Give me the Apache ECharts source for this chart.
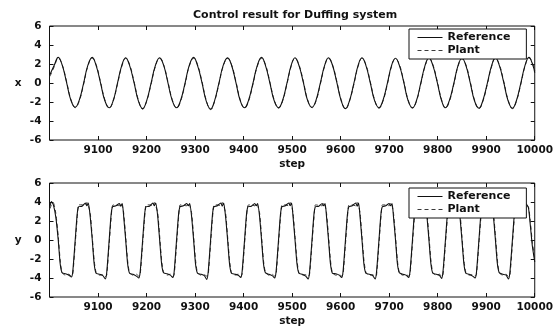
<!DOCTYPE html>
<html>
<head>
<meta charset="utf-8">
<script src="https://cdn.jsdelivr.net/npm/echarts@6/dist/echarts.min.js"></script>
<style>
  html, body { margin: 0; padding: 0; background: #ffffff; }
  #chart { width: 556px; height: 328px; }
</style>
</head>
<body>
<div id="chart"></div>
<script>
// Tick labels
const stepTicks = [9100, 9200, 9300, 9400, 9500, 9600, 9700, 9800, 9900, 10000];
const valueTicks = [-6, -4, -2, 0, 2, 4, 6];

// Position x: sample steps and values
const xSteps = [
  9001, 9010,
  9018, 9026, 9035, 9044, 9053, 9061, 9070, 9079,
  9088, 9096, 9105, 9114, 9123, 9131, 9140, 9149,
  9157, 9165, 9174, 9183, 9192, 9200, 9209, 9218,
  9227, 9235, 9244, 9253, 9262, 9270, 9279, 9288,
  9297, 9305, 9314, 9323, 9332, 9340, 9349, 9358,
  9367, 9375, 9384, 9393, 9402, 9410, 9419, 9428,
  9437, 9445, 9454, 9463, 9472, 9480, 9489, 9498,
  9506, 9514, 9523, 9532, 9541, 9549, 9558, 9567,
  9575, 9583, 9592, 9601, 9610, 9618, 9627, 9636,
  9644, 9652, 9661, 9670, 9679, 9687, 9696, 9705,
  9713, 9721, 9730, 9739, 9748, 9756, 9765, 9774,
  9782, 9790, 9799, 9808, 9816, 9824, 9833, 9842,
  9850, 9858, 9867, 9876, 9885, 9893, 9902, 9911,
  9919, 9927, 9936, 9945, 9954, 9962, 9971, 9980,
  9988, 9996, 10000
];
const xReference = [
  0.9, 1.9,
  2.7, 1.9, 0.1, -1.8, -2.55, -1.85, -0.1, 1.85,
  2.7, 1.85, 0.05, -1.85, -2.6, -1.9, -0.05, 1.85,
  2.65, 1.85, 0.1, -1.85, -2.7, -1.9, -0.1, 1.8,
  2.65, 1.9, 0.05, -1.85, -2.6, -1.85, -0.1, 1.85,
  2.7, 1.85, 0.1, -1.9, -2.75, -1.9, -0.05, 1.85,
  2.65, 1.9, 0.1, -1.85, -2.6, -1.85, -0.1, 1.8,
  2.7, 1.85, 0.05, -1.85, -2.6, -1.9, -0.1, 1.85,
  2.65, 1.85, 0.1, -1.85, -2.55, -1.85, -0.05, 1.85,
  2.65, 1.9, 0.1, -1.85, -2.7, -1.9, -0.1, 1.85,
  2.65, 1.85, 0.05, -1.85, -2.6, -1.85, -0.1, 1.85,
  2.6, 1.85, 0.1, -1.85, -2.6, -1.9, -0.05, 1.85,
  2.65, 1.85, 0.1, -1.85, -2.6, -1.85, -0.1, 1.85,
  2.6, 1.85, 0.05, -1.9, -2.65, -1.85, -0.1, 1.8,
  2.65, 1.85, 0.1, -1.85, -2.65, -1.9, -0.1, 1.85,
  2.7, 1.9, 1.1
];
const xPlant = [
  0.7, 1.75,
  2.6, 1.95, 0.2, -1.7, -2.6, -1.95, -0.2, 1.75,
  2.6, 1.95, 0.15, -1.75, -2.65, -1.95, -0.15, 1.75,
  2.6, 1.95, 0.2, -1.75, -2.75, -1.95, -0.2, 1.7,
  2.6, 1.95, 0.15, -1.75, -2.65, -1.95, -0.2, 1.75,
  2.6, 1.95, 0.2, -1.8, -2.8, -1.95, -0.15, 1.75,
  2.6, 1.95, 0.2, -1.75, -2.65, -1.95, -0.2, 1.7,
  2.6, 1.95, 0.15, -1.75, -2.65, -1.95, -0.2, 1.75,
  2.6, 1.95, 0.2, -1.75, -2.6, -1.95, -0.15, 1.75,
  2.6, 1.95, 0.2, -1.75, -2.75, -1.95, -0.2, 1.75,
  2.6, 1.95, 0.15, -1.75, -2.65, -1.95, -0.2, 1.75,
  2.55, 1.95, 0.2, -1.75, -2.65, -1.95, -0.15, 1.75,
  2.6, 1.95, 0.2, -1.75, -2.65, -1.95, -0.2, 1.75,
  2.55, 1.95, 0.15, -1.8, -2.7, -1.95, -0.2, 1.7,
  2.6, 1.95, 0.2, -1.75, -2.7, -1.95, -0.2, 1.75,
  2.65, 2.0, 1.3
];

// Velocity y: sample steps and values
const ySteps = [
  9001, 9004, 9008, 9013,
  9018, 9022, 9026, 9033, 9040, 9045, 9048, 9053, 9057, 9060, 9067, 9074, 9077, 9080, 9084,
  9088, 9092, 9096, 9103, 9110, 9115, 9118, 9123, 9127, 9130, 9137, 9144, 9147, 9150, 9153,
  9157, 9161, 9165, 9172, 9179, 9184, 9187, 9192, 9196, 9199, 9206, 9213, 9216, 9219, 9223,
  9227, 9231, 9235, 9242, 9249, 9254, 9257, 9262, 9266, 9269, 9276, 9283, 9286, 9289, 9293,
  9297, 9301, 9305, 9312, 9319, 9324, 9327, 9332, 9336, 9339, 9346, 9353, 9356, 9359, 9363,
  9367, 9371, 9375, 9382, 9389, 9394, 9397, 9402, 9406, 9409, 9416, 9423, 9426, 9429, 9433,
  9437, 9441, 9445, 9452, 9459, 9464, 9467, 9472, 9476, 9479, 9486, 9493, 9496, 9499, 9502,
  9506, 9510, 9514, 9521, 9528, 9533, 9536, 9541, 9545, 9548, 9555, 9562, 9565, 9568, 9571,
  9575, 9579, 9583, 9590, 9597, 9602, 9605, 9610, 9614, 9617, 9624, 9631, 9634, 9637, 9640,
  9644, 9648, 9652, 9659, 9666, 9671, 9674, 9679, 9683, 9686, 9693, 9700, 9703, 9706, 9709,
  9713, 9717, 9721, 9728, 9735, 9740, 9743, 9748, 9752, 9755, 9762, 9769, 9772, 9775, 9778,
  9782, 9786, 9790, 9797, 9804, 9808, 9811, 9816, 9820, 9823, 9830, 9837, 9840, 9843, 9846,
  9850, 9854, 9858, 9865, 9872, 9877, 9880, 9885, 9889, 9892, 9899, 9906, 9909, 9912, 9915,
  9919, 9923, 9927, 9934, 9941, 9946, 9949, 9954, 9958, 9961, 9968, 9975, 9978, 9982,
  9987, 9991, 9995, 10000
];
const yReference = [
  3.6, 4.05, 3.7, 2.4,
  0, -2.5, -3.45, -3.55, -3.7, -3.9, -3.3, 0, 2.7, 3.5, 3.55, 3.9, 3.6, 3.9, 2.4,
  0.1, -2.5, -3.5, -3.6, -3.75, -4.1, -3.4, 0, 2.7, 3.5, 3.6, 3.85, 3.55, 3.85, 2.4,
  0, -2.5, -3.5, -3.6, -3.8, -4.0, -3.3, 0, 2.7, 3.5, 3.55, 3.9, 3.6, 3.9, 2.5,
  0, -2.5, -3.45, -3.55, -3.7, -3.95, -3.3, 0.1, 2.7, 3.5, 3.6, 3.85, 3.6, 3.85, 2.4,
  0, -2.55, -3.5, -3.6, -3.75, -4.15, -3.4, 0, 2.75, 3.5, 3.6, 3.9, 3.55, 3.9, 2.4,
  0.05, -2.5, -3.5, -3.6, -3.7, -3.95, -3.3, 0, 2.7, 3.5, 3.55, 3.85, 3.6, 3.85, 2.45,
  0, -2.5, -3.45, -3.6, -3.75, -4.0, -3.3, 0, 2.7, 3.5, 3.6, 3.9, 3.6, 3.9, 2.4,
  0, -2.5, -3.5, -3.6, -3.8, -4.1, -3.35, 0, 2.7, 3.5, 3.55, 3.85, 3.6, 3.85, 2.4,
  0, -2.5, -3.5, -3.55, -3.7, -3.95, -3.3, 0.05, 2.7, 3.5, 3.6, 3.9, 3.55, 3.9, 2.45,
  0, -2.55, -3.5, -3.6, -3.75, -4.1, -3.35, 0, 2.7, 3.5, 3.6, 3.85, 3.6, 3.85, 2.4,
  0.05, -2.5, -3.45, -3.6, -3.7, -3.95, -3.3, 0, 2.75, 3.5, 3.55, 3.9, 3.6, 3.9, 2.4,
  0, -2.5, -3.5, -3.6, -3.75, -4.05, -3.3, 0, 2.7, 3.5, 3.6, 3.85, 3.55, 3.85, 2.4,
  0, -2.5, -3.5, -3.6, -3.8, -4.0, -3.35, 0, 2.7, 3.5, 3.6, 3.9, 3.6, 3.9, 2.45,
  0, -2.5, -3.45, -3.6, -3.7, -4.1, -3.3, 0, 2.7, 3.5, 3.6, 3.85, 3.6, 3.8,
  3.4, 1.5, -0.6, -2.3
];
const yPlant = [
  3.3, 3.7, 3.9, 2.8,
  0.4, -2.1, -3.45, -3.7, -3.6, -3.8, -3.6, -0.4, 2.3, 3.7, 3.7, 3.6, 3.95, 3.6, 2.8,
  0.4, -2.1, -3.4, -3.7, -3.65, -3.85, -3.7, -0.4, 2.3, 3.65, 3.7, 3.6, 3.9, 3.6, 2.8,
  0.4, -2.15, -3.45, -3.7, -3.6, -3.8, -3.6, -0.35, 2.3, 3.7, 3.7, 3.6, 3.95, 3.6, 2.85,
  0.45, -2.1, -3.4, -3.7, -3.6, -3.85, -3.65, -0.4, 2.3, 3.7, 3.65, 3.6, 3.9, 3.6, 2.8,
  0.4, -2.1, -3.45, -3.7, -3.65, -3.8, -3.7, -0.4, 2.35, 3.7, 3.7, 3.6, 3.95, 3.6, 2.8,
  0.4, -2.1, -3.45, -3.7, -3.6, -3.85, -3.6, -0.4, 2.3, 3.65, 3.7, 3.6, 3.9, 3.6, 2.85,
  0.4, -2.15, -3.4, -3.7, -3.6, -3.8, -3.65, -0.4, 2.3, 3.7, 3.7, 3.6, 3.95, 3.6, 2.8,
  0.4, -2.1, -3.45, -3.7, -3.65, -3.85, -3.6, -0.35, 2.3, 3.7, 3.65, 3.6, 3.9, 3.6, 2.8,
  0.45, -2.1, -3.45, -3.7, -3.6, -3.8, -3.65, -0.4, 2.3, 3.7, 3.7, 3.6, 3.95, 3.6, 2.85,
  0.4, -2.1, -3.4, -3.7, -3.65, -3.85, -3.7, -0.4, 2.35, 3.7, 3.7, 3.6, 3.9, 3.6, 2.8,
  0.4, -2.15, -3.45, -3.7, -3.6, -3.8, -3.6, -0.4, 2.3, 3.65, 3.7, 3.6, 3.95, 3.6, 2.8,
  0.4, -2.1, -3.45, -3.7, -3.6, -3.85, -3.65, -0.4, 2.3, 3.7, 3.65, 3.6, 3.9, 3.6, 2.85,
  0.4, -2.1, -3.4, -3.7, -3.65, -3.8, -3.6, -0.35, 2.3, 3.7, 3.7, 3.6, 3.95, 3.6, 2.8,
  0.45, -2.1, -3.45, -3.7, -3.6, -3.85, -3.7, -0.4, 2.3, 3.7, 3.7, 3.6, 3.9, 3.65,
  3.5, 1.9, -0.2, -2.0
];

const FONT = 'DejaVu Sans';
const INK = '#111111';
const PLANT_INK = '#3a3a3a';

const pairs = (steps, values) => steps.map((s, i) => [s, values[i]]);

const labelStyle = { color: INK, fontFamily: FONT, fontWeight: 'bold', fontSize: 10.5 };

const grids = [
  { left: 49.5, right: 19.5, top: 26, height: 114, show: true, borderColor: INK, borderWidth: 1, backgroundColor: '#fff' },
  { left: 49.5, right: 19.5, top: 183, height: 117, show: true, borderColor: INK, borderWidth: 1, backgroundColor: '#fff' }
];

function stepAxis(gridIndex, main) {
  return {
    type: 'value', gridIndex, min: 9000, max: 10000, interval: 100,
    position: main ? 'bottom' : 'top',
    axisLine: { show: false, onZero: false },
    axisTick: { show: true, inside: true, length: 4, lineStyle: { color: INK, width: 1 } },
    splitLine: { show: false },
    axisLabel: main ? Object.assign({
      show: true, margin: 5,
      formatter: v => stepTicks.includes(v) ? String(v) : ''
    }, labelStyle) : { show: false },
    name: main ? 'step' : '',
    nameLocation: 'middle', nameGap: 19,
    nameTextStyle: labelStyle
  };
}

function valueAxis(gridIndex, main, title) {
  return {
    type: 'value', gridIndex, min: -6, max: 6, interval: 2,
    position: main ? 'left' : 'right',
    axisLine: { show: false, onZero: false },
    axisTick: { show: true, inside: true, length: 4, lineStyle: { color: INK, width: 1 } },
    splitLine: { show: false },
    axisLabel: main ? Object.assign({
      show: true, margin: 8,
      formatter: v => valueTicks.includes(v) ? String(v) : ''
    }, labelStyle) : { show: false },
    name: main ? title : '',
    nameLocation: 'middle', nameRotate: 0, nameGap: 28,
    nameTextStyle: labelStyle
  };
}

function legendBox(top) {
  return {
    data: ['Reference', 'Plant'],
    orient: 'vertical', left: 409, top,
    padding: [3, 16, 3, 8],
    itemGap: 2, itemWidth: 25, itemHeight: 10,
    backgroundColor: '#ffffff', borderColor: INK, borderWidth: 1,
    itemStyle: { opacity: 0 },
    lineStyle: { width: 1 },
    textStyle: Object.assign({}, labelStyle, { fontSize: 11 }),
    selectedMode: false
  };
}

const solid = { color: INK, width: 1.1, type: 'solid' };
const dashed = { color: PLANT_INK, width: 1, type: [4, 3] };

const chart = echarts.init(document.getElementById('chart'), null, { renderer: 'canvas' });
chart.setOption({
  animation: false,
  backgroundColor: '#ffffff',
  title: {
    text: 'Control result for Duffing system',
    left: 188, top: 5,
    textStyle: Object.assign({}, labelStyle, { fontSize: 11 })
  },
  grid: grids,
  xAxis: [stepAxis(0, true), stepAxis(1, true), stepAxis(0, false), stepAxis(1, false)],
  yAxis: [valueAxis(0, true, 'x'), valueAxis(1, true, 'y'), valueAxis(0, false), valueAxis(1, false)],
  legend: [legendBox(29), legendBox(188)],
  series: [
    { name: 'Reference', type: 'line', xAxisIndex: 0, yAxisIndex: 0, data: pairs(xSteps, xReference),
      showSymbol: false, symbol: 'none', smooth: 0.45, lineStyle: solid, itemStyle: { color: INK }, z: 3 },
    { name: 'Plant', type: 'line', xAxisIndex: 0, yAxisIndex: 0, data: pairs(xSteps, xPlant),
      showSymbol: false, symbol: 'none', smooth: 0.45, lineStyle: dashed, itemStyle: { color: PLANT_INK }, z: 2 },
    { name: 'Reference', type: 'line', xAxisIndex: 1, yAxisIndex: 1, data: pairs(ySteps, yReference),
      showSymbol: false, symbol: 'none', smooth: 0.2, lineStyle: solid, itemStyle: { color: INK }, z: 3 },
    { name: 'Plant', type: 'line', xAxisIndex: 1, yAxisIndex: 1, data: pairs(ySteps, yPlant),
      showSymbol: false, symbol: 'none', smooth: 0.2, lineStyle: dashed, itemStyle: { color: PLANT_INK }, z: 2 }
  ]
});
</script>
</body>
</html>
